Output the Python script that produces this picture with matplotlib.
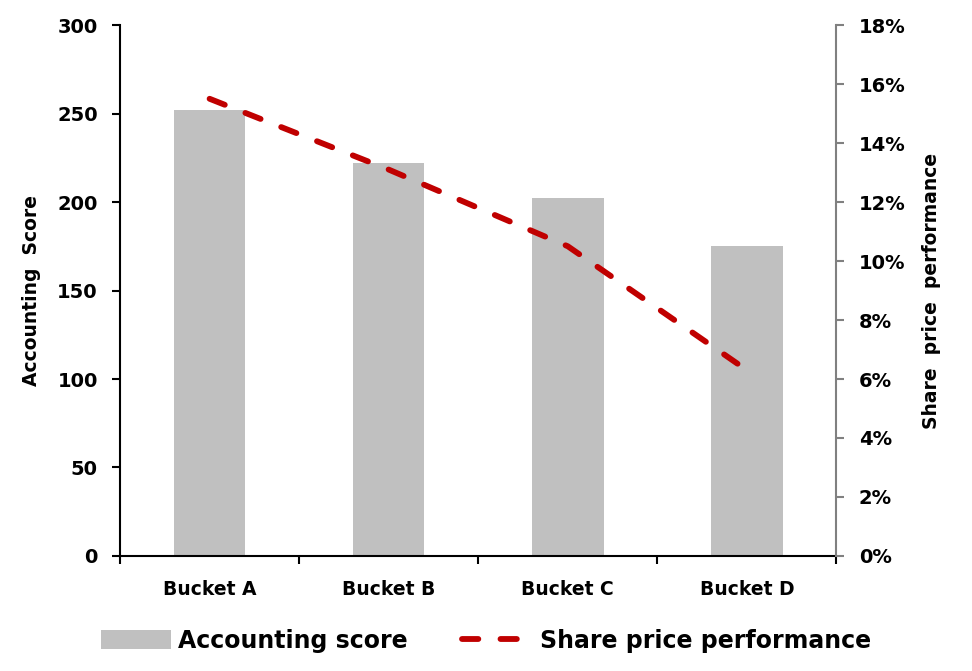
import matplotlib
import matplotlib.pyplot as plt
from matplotlib.ticker import FuncFormatter, FixedLocator

matplotlib.use("Agg")

plt.rcParams['font.family'] = ['DejaVu Sans']
plt.rcParams['font.weight'] = 'bold'

# data
buckets = ["Bucket A", "Bucket B", "Bucket C", "Bucket D"]
accounting_score = [252, 222, 202, 175]
share_price_perf = [15.5, 13.1, 10.5, 6.3]  # percent

fig = plt.figure(figsize=(9.72, 6.71), dpi=100)
ax = fig.add_axes([0.1235, 0.1714, 0.737, 0.7913])

x = range(len(buckets))
bars = ax.bar(x, accounting_score, width=0.4, color="#c0c0c0", label="Accounting score", zorder=2)
ax.set_ylim(0, 300)
ax.set_xlim(-0.5, len(buckets) - 0.5)
ax.set_yticks(range(0, 301, 50))
ax.set_xticks(list(x))
ax.set_xticklabels(buckets, fontsize=13.5, fontweight="bold")
ax.tick_params(axis="x", length=0, pad=17)
ax.xaxis.set_minor_locator(FixedLocator([i - 0.5 for i in range(len(buckets) + 1)]))
ax.tick_params(axis="x", which="minor", length=6, width=1.5, direction="out", color="black")
ax.tick_params(axis="y", length=6, width=1.5, labelsize=14, pad=10)
for lab in ax.get_yticklabels():
    lab.set_fontweight("bold")
ax.set_ylabel("Accounting  Score", fontsize=13.5, fontweight="bold", labelpad=12)
ax.spines["top"].set_visible(False)
ax.spines["right"].set_visible(False)
ax.spines["left"].set_linewidth(1.5)
ax.spines["bottom"].set_linewidth(1.5)

ax2 = ax.twinx()
line, = ax2.plot(list(x), share_price_perf, color="#c00000", linewidth=4.2,
                 linestyle=(0, (2.8, 3.8)), dash_capstyle="round",
                 label="Share price performance", zorder=3)
ax2.set_ylim(0, 18)
ax2.set_yticks(range(0, 19, 2))
ax2.yaxis.set_major_formatter(FuncFormatter(lambda v, p: f"{v:.0f}%"))
ax2.tick_params(axis="y", length=6, width=1.5, color="#808080", labelsize=14, pad=10)
for lab in ax2.get_yticklabels():
    lab.set_fontweight("bold")
ax2.set_ylabel("Share  price  performance", fontsize=13.5, fontweight="bold", labelpad=12)
for s in ["top", "left", "bottom"]:
    ax2.spines[s].set_visible(False)
ax2.spines["right"].set_color("#808080")
ax2.spines["right"].set_linewidth(1.5)

fig.legend([bars, line], ["Accounting score", "Share price performance"],
           loc="center", bbox_to_anchor=(0.5, 0.045), ncol=2, frameon=False,
           prop={"size": 17, "weight": "bold"}, handlelength=3.0, handleheight=0.9,
           columnspacing=2.3, handletextpad=0.3)

fig.savefig("out.png", dpi=100)
